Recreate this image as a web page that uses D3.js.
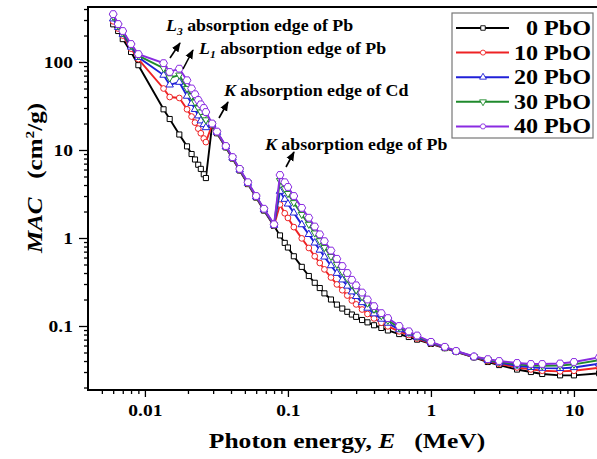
<!DOCTYPE html>
<html>
<head>
<meta charset="utf-8">
<script src="https://cdn.jsdelivr.net/npm/d3@7"></script>
<style>
  body { margin: 0; background: #fff; }
  text { font-family: "Liberation Serif", "Times New Roman", serif; font-weight: bold; fill: #000; }
</style>
</head>
<body>
<svg id="chart" width="597" height="459"></svg>
<script>
// photon energies (MeV)
const energies = [0.006, 0.0065, 0.007, 0.008, 0.009,
  0.0135, 0.0149, 0.0174, 0.0197, 0.0212, 0.0224, 0.0236, 0.0246, 0.0258, 0.0267,
  0.0295, 0.0319, 0.0368, 0.041, 0.046, 0.0525, 0.06, 0.068, 0.08,
  0.088, 0.095, 0.1, 0.11, 0.125, 0.14, 0.154, 0.167, 0.18, 0.2, 0.22, 0.24, 0.26, 0.28, 0.3, 0.33, 0.36, 0.4, 0.45, 0.5, 0.6, 0.7, 0.8,
  1, 1.25, 1.5, 2, 2.5, 3, 4, 5, 6, 8, 10, 15]

// MAC (cm2/g) for each glass
const mac0 = [268, 225, 182, 130, 92,
  29, 22.5, 15, 11, 9, 7.8, 6.8, 6.1, 5.3, 4.8,
  19.2, 15.5, 10.7, 8.0, 5.85, 4.1, 2.88, 2.05, 1.37,
  1.07, 0.88, 0.78, 0.62, 0.47, 0.37, 0.31, 0.27, 0.235, 0.2, 0.175, 0.158, 0.145, 0.135, 0.127, 0.117, 0.11, 0.102, 0.095, 0.089, 0.081, 0.075, 0.07,
  0.0625, 0.056, 0.051, 0.044, 0.039, 0.036, 0.032, 0.030, 0.0285, 0.0275, 0.0275, 0.029]
const mac10 = [290, 240, 200, 142, 108,
  50, 40, 39, 29, 24, 20.5, 17.5, 15.5, 13.5, 12.3,
  19.4, 15.7, 10.8, 8.05, 5.9, 4.15, 2.91, 2.08, 1.39,
  2.4, 1.91, 1.69, 1.33, 0.99, 0.77, 0.62, 0.52, 0.44, 0.356, 0.297, 0.255, 0.222, 0.195, 0.176, 0.154, 0.137, 0.122, 0.109, 0.099, 0.087, 0.079, 0.072,
  0.0636, 0.0566, 0.0513, 0.0443, 0.0399, 0.0372, 0.0338, 0.0321, 0.031, 0.0305, 0.031, 0.0335]
const mac20 = [310, 248, 207, 148, 113,
  71, 55, 59, 41, 34, 29, 24.5, 21.5, 19.5, 18,
  19.6, 15.9, 10.9, 8.15, 5.95, 4.2, 2.94, 2.1, 1.40,
  3.4, 2.76, 2.44, 1.93, 1.42, 1.1, 0.88, 0.73, 0.61, 0.486, 0.398, 0.335, 0.285, 0.245, 0.217, 0.185, 0.16, 0.138, 0.12, 0.108, 0.091, 0.082, 0.074,
  0.0644, 0.057, 0.0516, 0.0446, 0.0407, 0.0382, 0.0353, 0.0339, 0.0332, 0.033, 0.0338, 0.0373]
const mac30 = [330, 258, 215, 154, 118,
  85, 66, 71, 50, 41, 35, 30, 27, 24, 22,
  19.8, 16.0, 10.95, 8.2, 6.0, 4.25, 2.97, 2.12, 1.41,
  4.5, 3.62, 3.2, 2.52, 1.85, 1.43, 1.14, 0.93, 0.78, 0.616, 0.5, 0.416, 0.349, 0.295, 0.257, 0.215, 0.182, 0.155, 0.131, 0.116, 0.096, 0.085, 0.076,
  0.0653, 0.0575, 0.0518, 0.0448, 0.0414, 0.0392, 0.0368, 0.0356, 0.0353, 0.0355, 0.0367, 0.041]
const mac40 = [350, 270, 225, 160, 123,
  97, 77, 84, 62, 50, 43, 37, 33, 30, 27,
  20, 16.2, 11.1, 8.3, 6.1, 4.3, 3.0, 2.15, 1.43,
  5.2, 4.3, 3.8, 3.0, 2.2, 1.7, 1.35, 1.1, 0.92, 0.72, 0.58, 0.48, 0.40, 0.335, 0.29, 0.24, 0.2, 0.168, 0.14, 0.123, 0.1, 0.087, 0.078,
  0.066, 0.058, 0.052, 0.045, 0.042, 0.04, 0.038, 0.037, 0.037, 0.0375, 0.039, 0.044]

const seriesNames = ["0 PbO", "10 PbO", "20 PbO", "30 PbO", "40 PbO"]
const seriesValues = [mac0, mac10, mac20, mac30, mac40]
const colors = ["#000000", "#ee2224", "#2020d8", "#1f8a2c", "#8a2be2"]

const xTicks = [0.01, 0.1, 1, 10]
const yTicks = [0.1, 1, 10, 100]

// hexagon marker for the 40 PbO series
const hexagon = {
  draw(ctx, size) {
    const r = Math.sqrt(size / 2.598)
    for (let k = 0; k < 6; k++) {
      const a = Math.PI / 3 * k
      if (k === 0) ctx.moveTo(r * Math.cos(a), r * Math.sin(a))
      else ctx.lineTo(r * Math.cos(a), r * Math.sin(a))
    }
    ctx.closePath()
  }
}
const symbols = [d3.symbolSquare, d3.symbolCircle, d3.symbolTriangle, d3.symbolTriangle, hexagon]
const symSize = [26, 26, 24, 22, 40]
const symRot = [0, 0, 0, 180, 0]

const svg = d3.select("#chart")

// plot box: left 88, top 7, bottom 390; right side runs off the page
const x = d3.scaleLog().domain([0.004, 20]).range([88, 617])
const y = d3.scaleLog().domain([0.01874, 421.7]).range([390, 7])

const minorX = []
for (let e = -3; e <= 1; e++) for (let m = 2; m <= 9; m++) {
  const v = m * Math.pow(10, e)
  if (v > 0.004 && v < 20) minorX.push(v)
}
const minorY = []
for (let e = -2; e <= 2; e++) for (let m = 2; m <= 9; m++) {
  const v = m * Math.pow(10, e)
  if (v > 0.0188 && v < 421) minorY.push(v)
}

const fmt = d => d3.format("~g")(d)

// axes
const gx = svg.append("g").attr("transform", "translate(0,390)")
gx.append("g").call(d3.axisBottom(x).tickValues(minorX).tickSize(4).tickFormat(""))
gx.append("g").attr("class", "major").call(d3.axisBottom(x).tickValues(xTicks).tickSize(7).tickPadding(8).tickFormat(fmt))
const gy = svg.append("g").attr("transform", "translate(88,0)")
gy.append("g").call(d3.axisLeft(y).tickValues(minorY).tickSize(4).tickFormat(""))
gy.append("g").attr("class", "major").call(d3.axisLeft(y).tickValues(yTicks).tickSize(9).tickPadding(6).tickFormat(fmt))
svg.selectAll(".domain").remove()
svg.selectAll(".tick line").attr("stroke", "#000").attr("stroke-width", 1.3)
svg.selectAll(".tick text")
  .style("font-size", "16px").style("font-family", "Liberation Serif").style("font-weight", "bold")
  .each(function () {
    const t = d3.select(this)
    const tx = +t.attr("x") || 0
    t.attr("x", 0).attr("transform", `translate(${tx},0) scale(1.22,1)`)
  })

// frame
svg.append("rect")
  .attr("x", 88).attr("y", 7).attr("width", 529).attr("height", 383)
  .attr("fill", "none").attr("stroke", "#000").attr("stroke-width", 2)

// lines and markers
const line = d3.line().x(d => x(d[0])).y(d => y(d[1]))
seriesValues.forEach((vals, i) => {
  const pts = energies.map((e, j) => [e, vals[j]])
  const g = svg.append("g")
  g.append("path").datum(pts)
    .attr("d", line).attr("fill", "none")
    .attr("stroke", colors[i]).attr("stroke-width", 1.9)
  g.selectAll("path.mk").data(pts).join("path")
    .attr("class", "mk")
    .attr("transform", d => `translate(${x(d[0])},${y(d[1])}) rotate(${symRot[i]})`)
    .attr("d", d3.symbol().type(symbols[i]).size(symSize[i]))
    .attr("fill", "#fff").attr("stroke", colors[i]).attr("stroke-width", 1)
})

// legend
const lg = svg.append("g")
lg.append("rect").attr("x", 452).attr("y", 13).attr("width", 141).attr("height", 125)
  .attr("fill", "#fff").attr("stroke", "#777").attr("stroke-width", 1.2)
seriesNames.forEach((name, i) => {
  const cy = 28 + i * 24.6
  lg.append("line").attr("x1", 456).attr("x2", 509).attr("y1", cy).attr("y2", cy)
    .attr("stroke", colors[i]).attr("stroke-width", 2)
  lg.append("path").attr("transform", `translate(483,${cy}) rotate(${symRot[i]})`)
    .attr("d", d3.symbol().type(symbols[i]).size(20))
    .attr("fill", "#fff").attr("stroke", colors[i]).attr("stroke-width", 0.9)
  lg.append("text").attr("transform", `translate(591,${cy + 7}) scale(1.15,1)`)
    .attr("text-anchor", "end").style("font-size", "21px").text(name)
})

// arrows
svg.append("defs").append("marker")
  .attr("id", "head").attr("viewBox", "0 0 10 10").attr("refX", 9).attr("refY", 5)
  .attr("markerWidth", 6).attr("markerHeight", 6).attr("orient", "auto")
  .append("path").attr("d", "M0,1 L10,5 L0,9 Z").attr("fill", "#000")
const arrows = [[170, 58, 180, 43], [183, 69, 193, 50], [219, 118, 228, 102], [286, 167, 294, 152]]
arrows.forEach(a => {
  svg.append("line").attr("x1", a[0]).attr("y1", a[1]).attr("x2", a[2]).attr("y2", a[3])
    .attr("stroke", "#000").attr("stroke-width", 1.6).attr("marker-end", "url(#head)")
})

// annotations
function note(xp, yp, letter, sub, rest) {
  const t = svg.append("text").attr("transform", `translate(${xp},${yp}) scale(1.05,1)`).style("font-size", "17px")
  t.append("tspan").style("font-style", "italic").text(letter)
  if (sub) t.append("tspan").style("font-style", "italic").style("font-size", "11px").attr("dy", 4).text(sub)
  t.append("tspan").attr("dy", sub ? -4 : 0).text(" " + rest)
}
note(166, 31, "L", "3", "absorption edge of Pb")
note(199, 54, "L", "1", "absorption edge of Pb")
note(224, 96, "K", null, "absorption edge of Cd")
note(265, 150, "K", null, "absorption edge of Pb")

// axis titles
const xt = svg.append("text").attr("transform", "translate(347,448) scale(1.16,1)")
  .attr("text-anchor", "middle").style("font-size", "22px")
xt.append("tspan").text("Photon energy, ")
xt.append("tspan").style("font-style", "italic").text("E")
xt.append("tspan").attr("xml:space", "preserve").text("   (MeV)")

const yt = svg.append("text").attr("transform", "translate(42,178) rotate(-90) scale(1.19,1)")
  .attr("text-anchor", "middle").style("font-size", "21px")
yt.append("tspan").style("font-style", "italic").text("MAC")
yt.append("tspan").attr("xml:space", "preserve").text("   (cm")
yt.append("tspan").style("font-size", "13px").attr("dy", -8).text("2")
yt.append("tspan").attr("dy", 8).text("/g)")
</script>
</body>
</html>
